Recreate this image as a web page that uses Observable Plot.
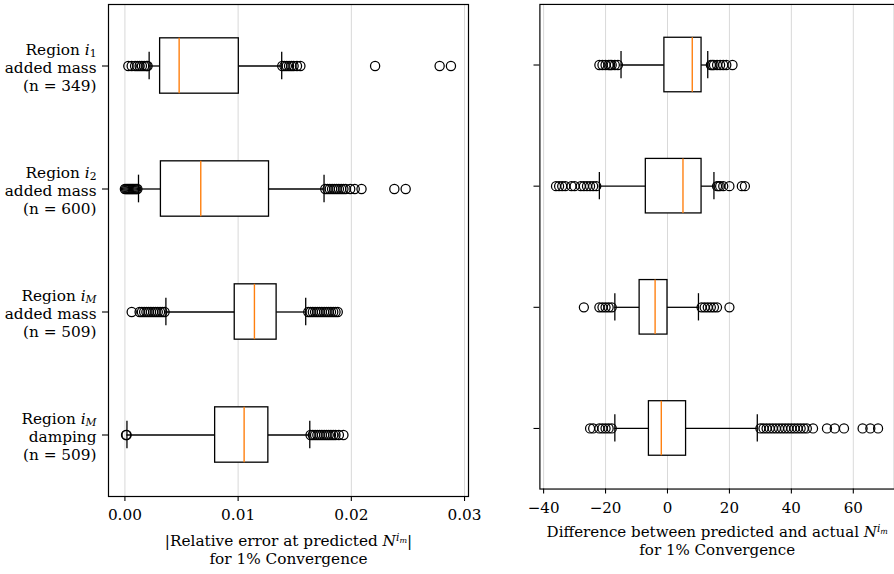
<!DOCTYPE html>
<html><head><meta charset="utf-8">
<script src="https://cdn.jsdelivr.net/npm/d3@7"></script>
<script src="https://cdn.jsdelivr.net/npm/@observablehq/plot@0.6"></script>
<style>
html,body{margin:0;padding:0;background:#fff;overflow:hidden;}
#wrap{position:relative;width:894px;height:574px;overflow:hidden;background:#fff;}
#left,#right{position:absolute;top:0;}
#left{left:0px;}
#right{left:500px;}
svg, svg text, svg tspan{font-family:"DejaVu Serif",serif !important;}
</style></head><body>
<div id="wrap"><div id="left"></div><div id="right"></div></div>
<script>
// ---- categories ----
const regionSymbols = ["$i_1$", "$i_2$", "$i_M$", "$i_M$"];
const quantities = ["added mass", "added mass", "added mass", "damping"];
const sampleCounts = [349, 600, 509, 509];
const positions = [1, 2, 3, 4];

// ---- left panel: |relative error| ----
const errTicks = [0, 0.01, 0.02, 0.03];
const errWhiskerLo = [0.00214, 0.0012, 0.00362, 0.00018];
const errQ1 = [0.00311, 0.00318, 0.0097, 0.00797];
const errMedian = [0.00479, 0.0067, 0.01144, 0.01053];
const errQ3 = [0.01006, 0.01273, 0.0134, 0.01267];
const errWhiskerHi = [0.01385, 0.01759, 0.01597, 0.01633];
const errOutliers = [
  [0.0003, 0.0006, 0.0009, 0.0011, 0.0013, 0.0015, 0.0017, 0.0019, 0.0020,
   0.0139, 0.0141, 0.0143, 0.0145, 0.0147, 0.0149, 0.0152, 0.0155, 0.0221, 0.0278, 0.0288],
  [0.0000, 0.0001, 0.0002, 0.0003, 0.0004, 0.0005, 0.0006, 0.0007, 0.0008, 0.0009, 0.0010, 0.0011,
   0.0177, 0.0179, 0.0181, 0.0183, 0.0185, 0.0187, 0.0189, 0.0191, 0.0193, 0.0195, 0.0199, 0.0203, 0.0209, 0.0238, 0.0248],
  [0.0006, 0.0013, 0.0015, 0.0017, 0.0019, 0.0021, 0.0023, 0.0025, 0.0027, 0.0029, 0.0031, 0.0033, 0.0035,
   0.0162, 0.0164, 0.0166, 0.0168, 0.0170, 0.0172, 0.0174, 0.0176, 0.0178, 0.0180, 0.0182, 0.0184, 0.0186, 0.0188],
  [0.0001, 0.00015,
   0.0164, 0.0166, 0.0168, 0.0170, 0.0172, 0.0174, 0.0176, 0.0178, 0.0180, 0.0182, 0.0184, 0.0186, 0.0189, 0.0193]
];

// ---- right panel: difference in N ----
const diffTicks = [-40, -20, 0, 20, 40, 60];
const diffWhiskerLo = [-15, -22, -17, -17];
const diffQ1 = [-1, -7, -9, -6];
const diffMedian = [8, 5, -4, -2];
const diffQ3 = [11, 11, 0, 6];
const diffWhiskerHi = [13, 15, 10, 29];
const diffOutliers = [
  [-22, -21, -20, -19, -18.5, -18, -17, -16, 14, 14.5, 15, 16, 17, 18, 19, 21],
  [-36, -35, -34, -33, -31, -30, -28, -27, -26, -25, -24, -23, 16, 16.5, 17, 18, 20, 24, 25],
  [-27, -22, -21, -20, -19, -18, 11, 12, 13, 14, 15, 16, 20],
  [-25, -24, -22, -21, -20, -19, -18, 30, 31, 32, 33, 34, 35, 36, 37, 38, 39, 40, 41, 42, 43, 44, 45, 47, 51.5, 54, 57, 63, 65.5, 68]
];

const leftLabel = "|Relative error at predicted $N^{i_m}$|\nfor 1% Convergence";
const rightLabel = "Difference between predicted and actual $N^{i_m}$\nfor 1% Convergence";

const yLabels = positions.map((p, i) => `Region ${regionSymbols[i]}\n${quantities[i]}\n(n = ${sampleCounts[i]})`);

const FONT = "DejaVu Serif";
const FS = 15.3;

function panel({lo, q1, med, q3, hi, outliers, domain, ticks, tickFormat, showY, label, width, marginLeft, marginRight}) {
  const rows = positions.map((p, i) => ({pos: p, lo: lo[i], q1: q1[i], med: med[i], q3: q3[i], hi: hi[i]}));
  const pts = outliers.flatMap((arr, i) => arr.map(v => ({pos: positions[i], v})));
  const bw = 0.225, cw = 0.1125;
  return Plot.plot({
    width, height: 574, marginLeft, marginRight, marginTop: 4, marginBottom: 78,
    style: {fontFamily: FONT, fontSize: FS + "px", background: "white", color: "black", overflow: "visible"},
    x: {domain, label: null},
    y: {domain: [0.5, 4.5], reverse: true, label: null},
    marks: [
      Plot.gridX(ticks, {stroke: "#d8d8d8", strokeOpacity: 1, strokeWidth: 1}),
      Plot.ruleY(rows, {y: "pos", x1: "lo", x2: "q1", stroke: "black", strokeWidth: 1.3}),
      Plot.ruleY(rows, {y: "pos", x1: "q3", x2: "hi", stroke: "black", strokeWidth: 1.3}),
      Plot.ruleX(rows, {x: "lo", y1: d => d.pos - cw, y2: d => d.pos + cw, stroke: "black", strokeWidth: 1.3}),
      Plot.ruleX(rows, {x: "hi", y1: d => d.pos - cw, y2: d => d.pos + cw, stroke: "black", strokeWidth: 1.3}),
      Plot.rect(rows, {x1: "q1", x2: "q3", y1: d => d.pos - bw, y2: d => d.pos + bw, fill: "white", stroke: "black", strokeWidth: 1.3}),
      Plot.ruleX(rows, {x: "med", y1: d => d.pos - bw, y2: d => d.pos + bw, stroke: "#ff7f0e", strokeWidth: 1.4}),
      Plot.dot(pts, {x: "v", y: "pos", r: 4.6, stroke: "black", strokeWidth: 1.25, fill: "none"}),
      Plot.frame({stroke: "black", strokeWidth: 1.2}),
      Plot.axisX(ticks, {tickSize: 5, tickPadding: 8, tickFormat, label: null, stroke: "black", strokeWidth: 1.1}),
      Plot.axisY(positions, {tickSize: 6, tickPadding: 6, label: null, stroke: "black", strokeWidth: 1.1,
        tickFormat: showY ? (d => yLabels[d - 1]) : (() => "")}),
      Plot.text([label], {frameAnchor: "bottom", dy: 36, lineAnchor: "top", lineHeight: 1.2, text: d => d, fill: "black"})
    ]
  });
}

const left = panel({
  lo: errWhiskerLo, q1: errQ1, med: errMedian, q3: errQ3, hi: errWhiskerHi, outliers: errOutliers,
  domain: [-0.00145, 0.03035], ticks: errTicks, tickFormat: d3.format(".2f"), showY: true,
  label: leftLabel, width: 480, marginLeft: 108, marginRight: 12
});
const right = panel({
  lo: diffWhiskerLo, q1: diffQ1, med: diffMedian, q3: diffQ3, hi: diffWhiskerHi, outliers: diffOutliers,
  domain: [-41.2, 73.3], ticks: diffTicks, tickFormat: d => d < 0 ? "\u2212" + Math.abs(d) : String(d), showY: false,
  label: rightLabel, width: 400, marginLeft: 40, marginRight: 0
});
document.getElementById("left").appendChild(left);
document.getElementById("right").appendChild(right);

// ---- y tick labels: line spacing like the reference ----
left.querySelectorAll('g[aria-label="y-axis tick label"] text').forEach(t => {
  const sp = [...t.children].filter(c => c.tagName.toLowerCase() === "tspan");
  const n = sp.length, lh = 1.17;
  sp.forEach((s, i) => {
    if (i === 0) { s.setAttribute("y", `${-(n - 1) / 2 * lh + 0.45}em`); s.removeAttribute("dy"); }
    else s.setAttribute("dy", `${lh}em`);
  });
});

// ---- render $...$ math snippets as italic / sub / superscript tspans ----
const NS = "http://www.w3.org/2000/svg";
function ts(parent, txt, attrs) {
  const t = document.createElementNS(NS, "tspan");
  for (const k in attrs) t.setAttribute(k, attrs[k]);
  if (txt != null) t.textContent = txt;
  parent.appendChild(t);
  return t;
}
function appendMath(node, m) {
  let r;
  if ((r = m.match(/^([A-Za-z])_([A-Za-z0-9])$/))) {
    ts(node, r[1], {"font-style": "italic"});
    ts(node, r[2], {"font-size": "70%", "baseline-shift": "-22%", "font-style": /[A-Za-z]/.test(r[2]) ? "italic" : "normal"});
  } else if ((r = m.match(/^([A-Za-z])\^\{([A-Za-z])_([A-Za-z])\}$/))) {
    ts(node, r[1], {"font-style": "italic"});
    const sup = ts(node, null, {"font-size": "70%", "baseline-shift": "45%", "font-style": "italic"});
    ts(sup, r[2], {});
    ts(sup, r[3], {"font-size": "75%", "baseline-shift": "-20%"});
  } else {
    ts(node, m, {"font-style": "italic"});
  }
}
function renderMath(root) {
  root.querySelectorAll("text, tspan").forEach(el => {
    if (![...el.childNodes].every(n => n.nodeType === 3)) return;
    const s = el.textContent;
    if (!s.includes("$")) return;
    el.textContent = "";
    s.split("$").forEach((p, i) => {
      if (i % 2 === 0) { if (p) el.appendChild(document.createTextNode(p)); }
      else appendMath(el, p);
    });
  });
}
renderMath(left);
renderMath(right);
</script>
</body></html>
